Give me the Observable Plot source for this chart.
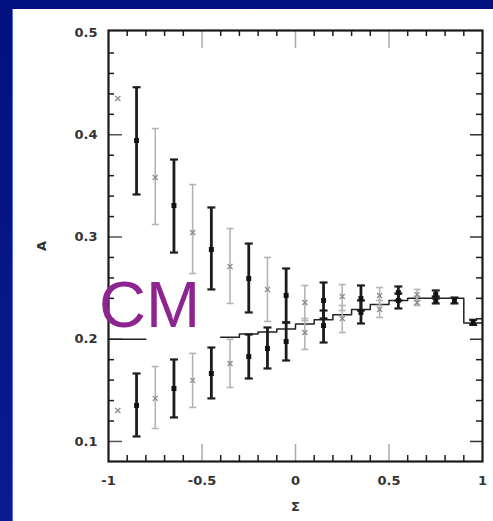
<!DOCTYPE html>
<html><head><meta charset="utf-8">
<script src="https://cdn.jsdelivr.net/npm/d3@7"></script>
<script src="https://cdn.jsdelivr.net/npm/@observablehq/plot@0.6"></script>
<style>
html,body{margin:0;padding:0;}
body{width:493px;height:521px;background:linear-gradient(180deg,#03107f 0%,#0a1b90 100%);overflow:hidden;position:relative;}
#panel{position:absolute;left:13px;top:9px;width:480px;height:512px;background:#fff;box-shadow:-1px 0 0 #5b6fd0;}
#cm{position:absolute;left:99px;top:272px;font-family:"Liberation Sans",Arial,sans-serif;font-size:65px;line-height:65px;color:#8e2490;}
</style></head>
<body>
<div id="panel"></div>
<div id="cm">CM</div>
<script>
// ---- data ----
const xVals = [-0.95,-0.85,-0.75,-0.65,-0.55,-0.45,-0.35,-0.25,-0.15,-0.05,0.05,0.15,0.25,0.35,0.45,0.55,0.65,0.75,0.85,0.95];
const upperSeries = ["B","A","B","A","B","A","B","A","B","A","B","A","B","A","B","A","B","A","A","A"];
const upperVal = [0.4355,0.3944,0.3582,0.3308,0.3044,0.2878,0.2712,0.2594,0.2487,0.2428,0.2359,0.2379,0.2418,0.2398,0.2428,0.2457,0.2438,0.2438,0.2379,0.2164];
const upperHi  = [null,0.4465,0.4061,0.3758,0.3513,0.3289,0.3083,0.2936,0.2800,0.2692,0.2526,0.2555,0.2535,0.2526,0.2506,0.2516,0.2487,0.2477,0.2408,0.2190];
const upperLo  = [null,0.3416,0.3122,0.2848,0.2643,0.2487,0.2350,0.2262,0.2174,0.2164,0.2183,0.2203,0.2281,0.2281,0.2330,0.2379,0.2379,0.2399,0.2350,0.2140];
const lowerSeries = ["B","A","B","A","B","A","B","A","A","A","B","A","B","A","B","A","B","A",null,null];
const lowerVal = [0.1303,0.1352,0.1421,0.1518,0.1597,0.1665,0.1763,0.1831,0.1910,0.1978,0.2066,0.2134,0.2203,0.2262,0.2291,0.2379,0.2359,0.2379,null,null];
const lowerHi  = [null,0.1665,0.1733,0.1802,0.1861,0.1919,0.1998,0.2046,0.2115,0.2164,0.2203,0.2281,0.2330,0.2379,0.2379,0.2447,0.2418,0.2418,null,null];
const lowerLo  = [null,0.1049,0.1127,0.1235,0.1333,0.1421,0.1528,0.1616,0.1714,0.1792,0.1900,0.1968,0.2066,0.2154,0.2213,0.2301,0.2330,0.2350,null,null];
// theory histogram (bin edges and values)
const stepX = [-0.4,-0.3,-0.2,-0.1,0,0.1,0.2,0.3,0.4,0.5,0.6,0.7,0.8,0.9,1.0];
const stepY = [0.202,0.205,0.207,0.210,0.215,0.219,0.224,0.229,0.234,0.238,0.240,0.240,0.240,0.216,0.216];
const stubX = [-1,-0.8];
const stubY = [0.2,0.2];
// axes
const xTicks = [-1,-0.5,0,0.5,1];
const xTickLabels = ["-1","-0.5","0","0.5","1"];
const yTicks = [0.1,0.2,0.3,0.4,0.5];
const yTickLabels = ["0.1","0.2","0.3","0.4","0.5"];
const xMinor = [-0.9,-0.8,-0.7,-0.6,-0.4,-0.3,-0.2,-0.1,0.1,0.2,0.3,0.4,0.6,0.7,0.8,0.9];
const xMajor = [-0.5,0,0.5];
const yMinor = [0.12,0.14,0.16,0.18,0.22,0.24,0.26,0.28,0.32,0.34,0.36,0.38,0.42,0.44,0.46,0.48];
const yMajor = [0.1,0.2,0.3,0.4];

// ---- build rows ----
function rows(vals, hi, lo, ser){
  const out=[];
  xVals.forEach((x,i)=>{ if(vals[i]!=null) out.push({x, y:vals[i], hi:hi[i], lo:lo[i], s:ser[i]}); });
  return out;
}
const pts = rows(upperVal,upperHi,upperLo,upperSeries).concat(rows(lowerVal,lowerHi,lowerLo,lowerSeries));
const bars = pts.filter(d=>d.hi!=null);
const steps = stepX.map((x,i)=>({x, y:stepY[i]}));
const stub = stubX.map((x,i)=>({x, y:stubY[i]}));

const hLine = { draw(ctx, size){ const r = Math.sqrt(size/Math.PI); ctx.moveTo(-r,0); ctx.lineTo(r,0); } };

const W=480,H=512,ML=95,MT=21,MR=11,MB=60;
const fw=W-ML-MR, fh=H-MT-MB;
const dark="#1c1c1c", light="#b4b4b4";
const isA=d=>d.s==="A", isB=d=>d.s==="B";

const chart = Plot.plot({
  width:W, height:H, marginLeft:ML, marginTop:MT, marginRight:MR, marginBottom:MB,
  x:{domain:[-1,1]},
  y:{domain:[0.0804,0.502]},
  style:{background:"transparent", color:"#333", fontFamily:"'DejaVu Sans',sans-serif", fontSize:"10px", fontWeight:"bold"},
  marks:[
    // ticks inside frame
    Plot.ruleX(xMinor,{x:d=>d, insetTop:fh-6, stroke:dark, strokeWidth:1.5}),
    Plot.ruleX(xMinor,{x:d=>d, insetBottom:fh-6, stroke:dark, strokeWidth:1.5}),
    Plot.ruleX(xMajor,{x:d=>d, insetTop:fh-17, stroke:"#aaa", strokeWidth:1.5}),
    Plot.ruleX(xMajor,{x:d=>d, insetBottom:fh-18, stroke:"#aaa", strokeWidth:1.5}),
    Plot.ruleY(yMinor,{y:d=>d, insetRight:fw-6, stroke:dark, strokeWidth:1.5}),
    Plot.ruleY(yMinor,{y:d=>d, insetLeft:fw-6, stroke:dark, strokeWidth:1.5}),
    Plot.ruleY(yMajor,{y:d=>d, insetRight:fw-14, stroke:"#555", strokeWidth:1.5}),
    Plot.ruleY(yMajor,{y:d=>d, insetLeft:fw-12, stroke:"#333", strokeWidth:1.5}),
    // theory histogram
    Plot.line(steps,{x:"x", y:"y", curve:"step-after", stroke:"#222", strokeWidth:1.5}),
    Plot.line(stub,{x:"x", y:"y", stroke:"#222", strokeWidth:1.5}),
    // error bars
    Plot.ruleX(bars.filter(isB),{x:"x", y1:"lo", y2:"hi", stroke:light, strokeWidth:1.6}),
    Plot.dot(bars.filter(isB),{x:"x", y:"hi", symbol:hLine, r:3.5, stroke:light, strokeWidth:1.6}),
    Plot.dot(bars.filter(isB),{x:"x", y:"lo", symbol:hLine, r:3.5, stroke:light, strokeWidth:1.6}),
    Plot.ruleX(bars.filter(isA),{x:"x", y1:"lo", y2:"hi", stroke:dark, strokeWidth:2.8}),
    Plot.dot(bars.filter(isA),{x:"x", y:"hi", symbol:hLine, r:4, stroke:dark, strokeWidth:2.2}),
    Plot.dot(bars.filter(isA),{x:"x", y:"lo", symbol:hLine, r:4, stroke:dark, strokeWidth:2.2}),
    // points
    Plot.dot(pts.filter(isB),{x:"x", y:"y", symbol:"times", r:2.4, stroke:"#888", strokeWidth:1.2}),
    Plot.dot(pts.filter(isA),{x:"x", y:"y", symbol:"square", r:2.8, fill:"#111"}),
    // frame
    Plot.frame({stroke:"#1a1a1a", strokeWidth:2.2}),
    // axes labels
    Plot.axisX({ticks:xTicks, tickSize:0, tickPadding:14, tickFormat:(d,i)=>xTickLabels[i],
      label:"Σ", labelAnchor:"center", labelOffset:49, labelArrow:"none", fontSize:10}),
    Plot.axisY({ticks:yTicks, tickSize:0, tickPadding:11, tickFormat:(d,i)=>yTickLabels[i],
      label:"A", labelAnchor:"center", labelOffset:72, labelArrow:"none", fontSize:10})
  ]
});
chart.querySelectorAll("[aria-label$='label'] text, [aria-label='x-axis label'], [aria-label='y-axis label']").forEach(t=>{ t.style.fontSize="13px"; });
chart.style.position="absolute"; chart.style.left="0"; chart.style.top="0";
document.getElementById("panel").appendChild(chart);
</script>
</body></html>
